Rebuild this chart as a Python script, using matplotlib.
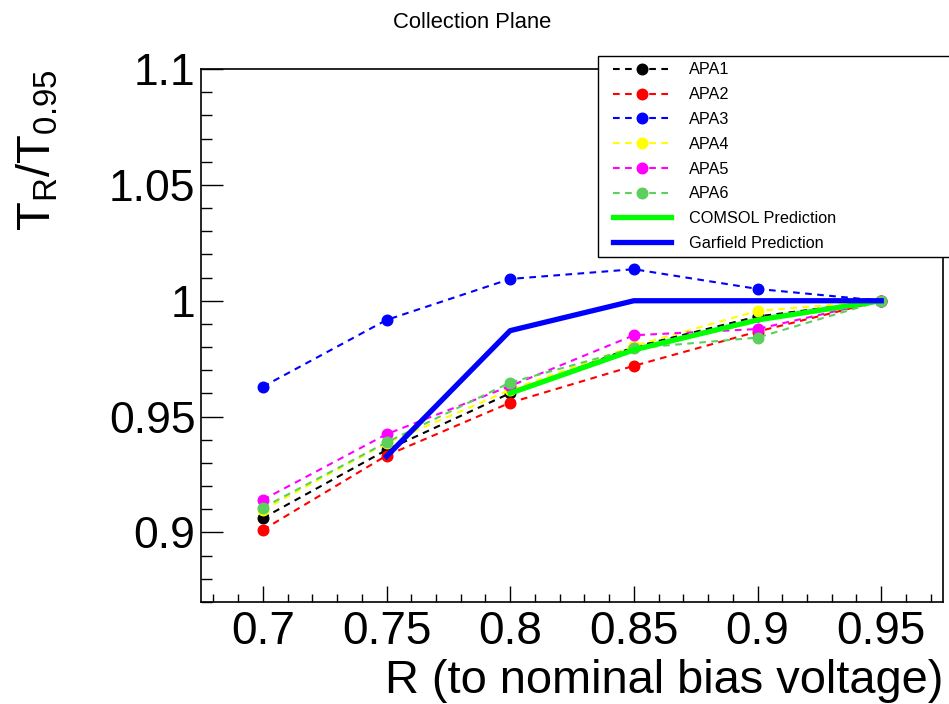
import matplotlib
matplotlib.use("Agg")
import matplotlib.pyplot as plt
from matplotlib.lines import Line2D
from matplotlib.legend_handler import HandlerLine2D
from matplotlib.ticker import MultipleLocator, FuncFormatter

plt.rcParams['font.family'] = ['Liberation Sans', 'DejaVu Sans']

R = [0.7, 0.75, 0.8, 0.85, 0.9, 0.95]
apa1 = [0.9062, 0.9356, 0.9601, 0.9800, 0.9932, 1.0]
apa2 = [0.9011, 0.9332, 0.9560, 0.9719, 0.9867, 1.0]
apa3 = [0.9629, 0.9917, 1.0094, 1.0136, 1.0051, 1.0]
apa4 = [0.9097, 0.9385, 0.9615, 0.9805, 0.9956, 1.0]
apa5 = [0.9141, 0.9424, 0.9632, 0.9851, 0.9878, 1.0]
apa6 = [0.9107, 0.9389, 0.9647, 0.9795, 0.9841, 1.0]

comsol_R = [0.8, 0.85, 0.9, 0.95]
comsol = [0.9601, 0.9788, 0.9917, 1.0]
garfield_R = [0.75, 0.8, 0.85, 0.9, 0.95]
garfield = [0.9328, 0.9871, 1.0, 1.0, 1.0]

apa_names = ['APA1', 'APA2', 'APA3', 'APA4', 'APA5', 'APA6']
apa_values = [apa1, apa2, apa3, apa4, apa5, apa6]
apa_colors = ['black', '#ff0000', '#0000ff', '#ffff00', '#ff00ff', '#5ccf5c']

fig = plt.figure(figsize=(9.49, 7.04), dpi=100)
ax = fig.add_axes([201 / 949, 1 - 602 / 704, 742 / 949, 533 / 704])

for name, vals, c in zip(apa_names, apa_values, apa_colors):
    ax.plot(R, vals, color=c, lw=1.5, dashes=(3.2, 2.6), marker='o', ms=7.6,
            mec=c, mfc=c, label=name)
ax.plot(comsol_R, comsol, color='#00ff00', lw=3.8, label='COMSOL Prediction')
ax.plot(garfield_R, garfield, color='#0000ff', lw=3.8, label='Garfield Prediction')

ax.set_xlim(0.675, 0.975)
ax.set_ylim(0.87, 1.1)

ax.xaxis.set_major_locator(MultipleLocator(0.05))
ax.xaxis.set_minor_locator(MultipleLocator(0.01))
ax.yaxis.set_major_locator(MultipleLocator(0.05))
ax.yaxis.set_minor_locator(MultipleLocator(0.01))
fmt = FuncFormatter(lambda v, p: '%g' % round(v, 3))
ax.xaxis.set_major_formatter(fmt)
ax.yaxis.set_major_formatter(fmt)

ax.tick_params(axis='x', which='major', direction='in', length=11.5, width=1,
               labelsize=33, pad=6, top=False)
ax.tick_params(axis='x', which='minor', direction='in', length=5.8, width=1, top=False)
ax.tick_params(axis='y', which='major', direction='in', length=15.8, width=1,
               labelsize=32, pad=4, right=False)
ax.tick_params(axis='y', which='minor', direction='in', length=7.9, width=1, right=False)
for s in ax.spines.values():
    s.set_linewidth(1.2)

ax.set_xlabel('R (to nominal bias voltage)', fontsize=33.8, loc='right', labelpad=3.5)
ax.set_ylabel(r'$\mathregular{T_{R}/T_{0.95}}$', fontsize=34, loc='top')
ax.yaxis.set_label_coords(-0.19, 1.0)

fig.text(472 / 949, 1 - 23 / 704, 'Collection Plane', ha='center', va='center', fontsize=15.8)

leg = ax.legend(loc='upper left', bbox_to_anchor=(598 / 949, 1 - 256 / 704, 380 / 949, 200 / 704),
                bbox_transform=fig.transFigure, mode='expand', fontsize=11.7,
                fancybox=False, frameon=True, edgecolor='black', framealpha=1,
                handlelength=4.12, handletextpad=1.1, labelspacing=0.6,
                borderpad=0.4, borderaxespad=0, numpoints=1,
                handler_map={Line2D: HandlerLine2D(xpad=0.55)})
leg.get_frame().set_linewidth(1.0)

fig.savefig('out.png', dpi=100)
